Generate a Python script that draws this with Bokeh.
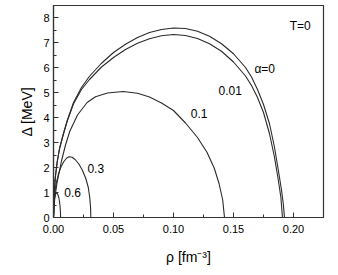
from bokeh.plotting import figure
from bokeh.models import Range1d, FixedTicker, PrintfTickFormatter, Label
from bokeh.embed import file_html
from bokeh.resources import INLINE

# ---- data ----
rho_a0 = [0, 0.0005, 0.0015, 0.003, 0.005, 0.008, 0.0114, 0.0167, 0.0233, 0.03, 0.04, 0.05, 0.06,
          0.07, 0.08, 0.09, 0.10, 0.11, 0.12, 0.13, 0.14, 0.15, 0.16, 0.165, 0.17, 0.175, 0.18,
          0.184, 0.187, 0.19, 0.1915, 0.1925]
gap_a0 = [0, 0.9, 1.6, 2.2, 2.75, 3.3, 3.87, 4.6, 5.2, 5.65, 6.17, 6.6, 6.93,
          7.2, 7.4, 7.52, 7.58, 7.56, 7.45, 7.25, 6.95, 6.55, 6.0, 5.62, 5.12, 4.52, 3.75,
          2.85, 2.0, 1.1, 0.55, 0]

rho_a001 = [0, 0.0005, 0.0015, 0.003, 0.005, 0.008, 0.0114, 0.0167, 0.0233, 0.03, 0.04, 0.05, 0.06,
            0.07, 0.08, 0.09, 0.10, 0.11, 0.12, 0.13, 0.14, 0.15, 0.16, 0.165, 0.17, 0.175, 0.18,
            0.184, 0.187, 0.1895, 0.1908]
gap_a001 = [0, 0.9, 1.6, 2.2, 2.75, 3.3, 3.85, 4.55, 5.12, 5.52, 6.02, 6.4, 6.72,
            6.97, 7.15, 7.27, 7.32, 7.28, 7.16, 6.95, 6.65, 6.22, 5.66, 5.28, 4.8, 4.2, 3.35,
            2.45, 1.6, 0.8, 0]

rho_a01 = [0, 0.001, 0.003, 0.0067, 0.01, 0.0136, 0.02, 0.028, 0.035, 0.045, 0.058, 0.07, 0.08,
           0.09, 0.10, 0.11, 0.12, 0.128, 0.134, 0.138, 0.141, 0.1425]
gap_a01 = [0, 0.75, 1.4, 2.27, 2.9, 3.45, 4.1, 4.6, 4.83, 4.98, 5.04, 4.97, 4.82,
           4.58, 4.28, 3.78, 3.2, 2.6, 1.97, 1.35, 0.7, 0]

rho_a03 = [0, 0.0003, 0.001, 0.002, 0.0039, 0.006, 0.0085, 0.011, 0.0131, 0.0155, 0.018, 0.021,
           0.024, 0.027, 0.029, 0.0302, 0.0309, 0.0311]
gap_a03 = [0, 0.5, 0.95, 1.3, 1.7, 2.0, 2.23, 2.38, 2.43, 2.41, 2.32, 2.15,
           1.9, 1.55, 1.2, 0.8, 0.4, 0]

rho_a06 = [0, 0.0002, 0.0006, 0.0012, 0.002, 0.0028, 0.0036, 0.0044, 0.005, 0.0055, 0.0058, 0.0059]
gap_a06 = [0, 0.35, 0.65, 0.85, 0.96, 0.98, 0.92, 0.8, 0.64, 0.42, 0.2, 0]

x_ticks = [0.0, 0.05, 0.10, 0.15, 0.20]
x_minor = [0.025, 0.075, 0.125, 0.175, 0.225]
y_ticks = [0, 1, 2, 3, 4, 5, 6, 7, 8]
y_minor = [0.5, 1.5, 2.5, 3.5, 4.5, 5.5, 6.5, 7.5]

curve_labels = ["\u03b1=0", "0.01", "0.1", "0.3", "0.6"]

FONT = "Liberation Sans"

p = figure(width=330, height=267, output_backend="svg", toolbar_location=None,
           x_range=Range1d(0, 0.225), y_range=Range1d(0, 8.48),
           min_border_left=53, min_border_right=7, min_border_top=5, min_border_bottom=50)

p.xgrid.visible = False
p.ygrid.visible = False
p.outline_line_color = "#333333"
p.outline_line_width = 1.2
p.background_fill_color = "white"
p.border_fill_color = "white"

curves = [(rho_a0, gap_a0), (rho_a001, gap_a001), (rho_a01, gap_a01), (rho_a03, gap_a03), (rho_a06, gap_a06)]
for xs, ys in curves:
    p.line(xs, ys, line_color="#2a2a2a", line_width=1.1, line_join="round")

for ax in (p.xaxis[0], p.yaxis[0]):
    ax.axis_line_color = "#333333"
    ax.axis_line_width = 1.2
    ax.major_tick_in = 5
    ax.major_tick_out = 0
    ax.minor_tick_in = 3
    ax.minor_tick_out = 0
    ax.major_tick_line_color = "#333333"
    ax.minor_tick_line_color = "#333333"
    ax.major_label_text_font = FONT
    ax.major_label_text_font_size = "11px"
    ax.major_label_text_color = "black"
    ax.axis_label_text_font = FONT
    ax.axis_label_text_font_size = "14px"
    ax.axis_label_text_font_style = "normal"
    ax.axis_label_text_color = "black"

p.xaxis[0].ticker = FixedTicker(ticks=x_ticks, minor_ticks=x_minor)
p.xaxis[0].formatter = PrintfTickFormatter(format="%.2f")
p.xaxis[0].major_label_standoff = 7
p.xaxis[0].axis_label = "\u03c1 [fm\u207b\u00b3]"
p.xaxis[0].axis_label_standoff = 13

p.yaxis[0].ticker = FixedTicker(ticks=y_ticks, minor_ticks=y_minor)
p.yaxis[0].major_label_standoff = 4
p.yaxis[0].axis_label = "\u0394 [MeV]"
p.yaxis[0].axis_label_standoff = 5

# annotations
ann = [("T=0", 0.2056, 7.67)] + list(zip(curve_labels, [0.176, 0.1473, 0.1214, 0.0352, 0.016],
                                         [5.95, 5.1, 4.15, 1.95, 0.99]))
for t, x, y in ann:
    p.add_layout(Label(x=x, y=y, text=t, text_font=FONT, text_font_size="12px",
                       text_align="center", text_baseline="middle", text_color="black"))

open("out.html", "w").write(file_html(p, INLINE))
